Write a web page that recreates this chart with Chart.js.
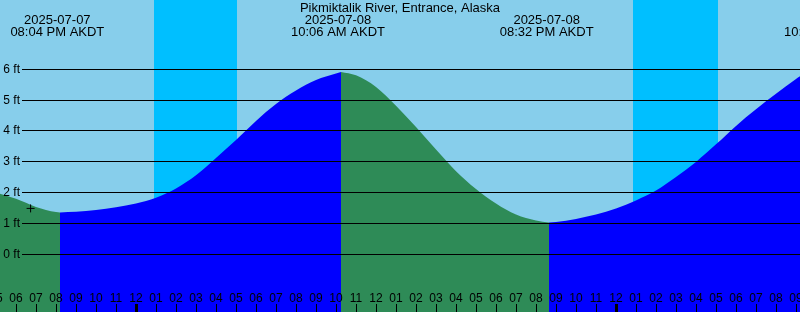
<!DOCTYPE html>
<html>
<head>
<meta charset="utf-8">
<script src="https://cdn.jsdelivr.net/npm/chart.js@4"></script>
<style>
  html, body { margin: 0; padding: 0; background: #87CEEB; }
  #wrap { width: 800px; height: 312px; }
</style>
</head>
<body>
<div id="wrap"><canvas id="chart" width="800" height="312"></canvas></div>
<script>
// hours from 2025-07-08 00:00 AKDT, heights in feet
const hours = [-7, -6, -5, -4, -3.8, -3, -2, -1, 0, 1, 2, 3, 4, 5, 6, 7, 8, 9, 10, 10.25,
    11, 12, 13, 14, 15, 16, 17, 18, 19, 20, 20.65, 21, 22, 23, 24, 25, 26, 27, 28, 29, 30, 31, 32, 33, 34];
const heights = [2.0, 1.79, 1.53, 1.36, 1.35, 1.37, 1.43, 1.52, 1.64, 1.83, 2.13, 2.56, 3.12, 3.70, 4.32, 4.87, 5.31, 5.65, 5.86, 5.91,
    5.80, 5.42, 4.81, 4.12, 3.39, 2.69, 2.11, 1.64, 1.28, 1.09, 1.02, 1.04, 1.14, 1.28, 1.48, 1.74, 2.06, 2.50, 2.99, 3.56, 4.16, 4.70, 5.20, 5.68, 6.1];

// where the tide turns (color changes) and the colors of each stretch
const turns = [-3.8, 10.25, 20.65];
const stretchColors = ['#2E8B57', '#0000FF', '#2E8B57', '#0000FF'];

// high / low labels on top
const tideTimes = [-3.933, 10.1, 20.533, 34.75];
const tideDates = ['2025-07-07', '2025-07-08', '2025-07-08', ''];
const tideClock = ['08:04 PM AKDT', '10:06 AM AKDT', '08:32 PM AKDT', '10:45 AM AKDT'];

// night (sunset -> sunrise)
const nights = [[0.9, 5.05], [24.85, 29.1]];

const feetTicks = [0, 1, 2, 3, 4, 5, 6];
const nowMark = { x: -5.27, y: 1.48 };

const FONT_TOP = '13px "Liberation Sans"';
const FONT_AXIS = '12px "Liberation Sans"';

const datasets = [{
    type: 'scatter',
    data: [nowMark],
    pointStyle: 'cross',
    radius: 4,
    borderColor: '#000',
    borderWidth: 1,
    order: 0
}];

for (let i = 0; i < stretchColors.length; i++) {
    const from = i === 0 ? -Infinity : turns[i - 1];
    const to = i === turns.length ? Infinity : turns[i];
    const pts = [];
    hours.forEach((h, k) => {
        if (h >= from && h <= to) pts.push({ x: h, y: heights[k] });
    });
    datasets.push({
        data: pts,
        fill: 'start',
        backgroundColor: stretchColors[i],
        borderColor: 'rgba(0,0,0,0)',
        borderWidth: 0,
        pointRadius: 0,
        cubicInterpolationMode: 'monotone',
        order: 1
    });
}

const tideDecor = {
    id: 'tideDecor',
    beforeDatasetsDraw(chart) {
        const { ctx, scales: { x } } = chart;
        ctx.save();
        ctx.fillStyle = '#87CEEB';
        ctx.fillRect(0, 0, chart.width, chart.height);
        ctx.fillStyle = '#00BFFF';
        nights.forEach(n => {
            const a = x.getPixelForValue(n[0]);
            const b = x.getPixelForValue(n[1]);
            ctx.fillRect(a, 0, b - a, chart.height);
        });
        ctx.restore();
    },
    afterDatasetsDraw(chart) {
        const { ctx, scales: { x, y } } = chart;
        ctx.save();
        ctx.fillStyle = '#000';
        ctx.strokeStyle = '#000';
        ctx.lineWidth = 1;

        // feet grid lines + labels
        ctx.font = FONT_AXIS;
        feetTicks.forEach(v => {
            const py = Math.floor(y.getPixelForValue(v)) + 0.5;
            ctx.beginPath();
            ctx.moveTo(22, py);
            ctx.lineTo(chart.width, py);
            ctx.stroke();
            ctx.textAlign = 'right';
            ctx.textBaseline = 'middle';
            ctx.fillText(v + ' ft', 20, py);
        });

        // hour ticks along the bottom
        ctx.textAlign = 'center';
        ctx.textBaseline = 'alphabetic';
        for (let h = Math.floor(x.min) - 1; h <= Math.ceil(x.max) + 1; h++) {
            const px = Math.round(x.getPixelForValue(h));
            const hr = ((h % 24) + 24) % 24;
            const h12 = hr % 12 === 0 ? 12 : hr % 12;
            ctx.fillText(String(h12).padStart(2, '0'), px, 302);
            const w = hr === 0 ? 3 : 1;
            ctx.fillRect(px - Math.floor(w / 2), 304, w, 8);
        }

        // high / low labels
        ctx.font = FONT_TOP;
        tideTimes.forEach((t, i) => {
            const px = x.getPixelForValue(t);
            ctx.fillText(tideDates[i], px, 24);
            ctx.fillText(tideClock[i], px, 36);
        });

        ctx.fillText('Pikmiktalik River, Entrance, Alaska', chart.width / 2, 12);
        ctx.restore();
    }
};

new Chart(document.querySelector('#chart'), {
    type: 'line',
    data: { datasets: datasets },
    options: {
        responsive: false,
        animation: false,
        layout: { padding: 0, autoPadding: false },
        scales: {
            x: { type: 'linear', display: false, min: -6.8, max: 33.2 },
            y: { display: false, min: -1.883, max: 8.247 }
        },
        plugins: {
            legend: { display: false },
            tooltip: { enabled: false }
        }
    },
    plugins: [tideDecor]
});
</script>
</body>
</html>
